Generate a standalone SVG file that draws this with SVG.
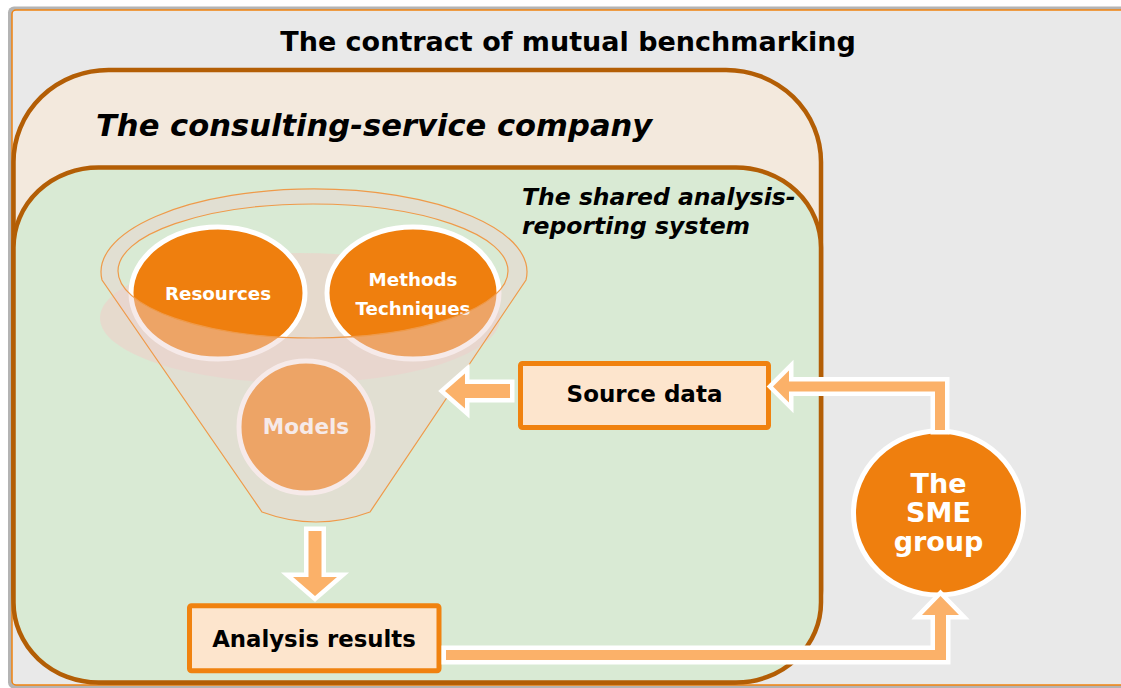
<svg xmlns="http://www.w3.org/2000/svg" width="1121" height="688" viewBox="0 0 1121 688">
<style>
  .t { font-family: "DejaVu Sans", Verdana, sans-serif; font-weight: bold; }
  .it { font-style: italic; }
  .container { stroke: #b35e05; stroke-width: 4.5; }
  .box { fill: #fde5cd; stroke: #f0820f; stroke-width: 5; }
  .arrow { fill: #fbb169; stroke: #ffffff; stroke-width: 9; paint-order: stroke; stroke-linejoin: miter; }
  .disc { fill: #ef7f0e; stroke: #ffffff; stroke-width: 5; }
</style>
<rect width="1121" height="688" fill="#ffffff"/>
<g id="frame">
  <rect x="8" y="6.5" width="1125" height="682" rx="6" fill="#b4b4b4"/>
  <rect x="12" y="10" width="1120" height="675" rx="4" fill="#e9e9e9" stroke="#f0820f" stroke-width="1.5"/>
  <text class="t" x="568" y="51" font-size="27" text-anchor="middle" fill="#000">The contract of mutual benchmarking</text>
</g>
<g id="consulting-company">
  <rect class="container" x="13.5" y="70" width="807.5" height="612.5" rx="95" ry="92" fill="#f3e9dd"/>
  <text class="t it" x="96" y="136" font-size="30.6" fill="#000">The consulting-service company</text>
</g>
<g id="shared-system">
  <rect class="container" x="13.5" y="167.5" width="807.5" height="515" rx="85" ry="80" fill="#d9ead4"/>
  <text class="t it" x="522" y="205" font-size="23.5" fill="#000">The shared analysis-</text>
  <text class="t it" x="522" y="234" font-size="23.5" fill="#000">reporting system</text>
</g>
<g id="funnel">
  <ellipse cx="300" cy="318" rx="200" ry="65" fill="#f7c8c5" fill-opacity="0.45"/>
  <g id="resources">
    <ellipse class="disc" cx="218" cy="293" rx="87" ry="66"/>
    <text class="t" x="218" y="300" font-size="18.3" text-anchor="middle" fill="#fff">Resources</text>
  </g>
  <g id="methods">
    <ellipse class="disc" cx="413" cy="293" rx="86" ry="66"/>
    <text class="t" x="413" y="286" font-size="18.3" text-anchor="middle" fill="#fff">Methods</text>
    <text class="t" x="413" y="315" font-size="18.3" text-anchor="middle" fill="#fff">Techniques</text>
  </g>
  <g id="models">
    <ellipse class="disc" cx="306" cy="427" rx="67" ry="66"/>
    <text class="t" x="306" y="434" font-size="21.5" text-anchor="middle" fill="#fff">Models</text>
  </g>
  <path d="M 102,280 A 213 83 0 1 1 526,280 L 370,512 Q 316,532 262,512 Z M 118,271 A 195 67 0 1 0 508,271 A 195 67 0 1 0 118,271 Z" fill="#ecd2d0" fill-opacity="0.46" fill-rule="evenodd" stroke="#ef9a4a" stroke-width="1.2"/>
</g>
<g id="source-data">
  <rect class="box" x="520.5" y="363.5" width="248" height="64" rx="2"/>
  <text class="t" x="644.5" y="402" font-size="23" text-anchor="middle" fill="#000">Source data</text>
</g>
<g id="analysis-results">
  <rect class="box" x="189.5" y="605.8" width="249.5" height="65" rx="2"/>
  <text class="t" x="314" y="647" font-size="22.8" text-anchor="middle" fill="#000">Analysis results</text>
</g>
<g id="sme-group">
  <ellipse cx="938.5" cy="513" rx="85" ry="82" fill="#ef7f0e" stroke="#ffffff" stroke-width="5"/>
  <text class="t" x="938.5" y="493" font-size="27" text-anchor="middle" fill="#fff">The</text>
  <text class="t" x="938.5" y="522" font-size="27" text-anchor="middle" fill="#fff">SME</text>
  <text class="t" x="938.5" y="551" font-size="27" text-anchor="middle" fill="#fff">group</text>
</g>
<g id="connectors">
  <path class="arrow" d="M 510,384 L 465,384 L 465,373.5 L 445,391 L 465,408.5 L 465,398 L 510,398 Z"/>
  <path class="arrow" d="M 945,430 L 945,381.5 L 789,381.5 L 789,370.5 L 773,386.5 L 789,402.5 L 789,391.5 L 935,391.5 L 935,430 Z"/>
  <path class="arrow" d="M 446,650 L 935,650 L 935,615 L 922,615 L 940.5,596 L 959,615 L 946,615 L 946,660 L 446,660 Z"/>
  <path class="arrow" d="M 308.5,531 L 321.5,531 L 321.5,577 L 337,577 L 315,596 L 293,577 L 308.5,577 Z"/>
</g>
</svg>
